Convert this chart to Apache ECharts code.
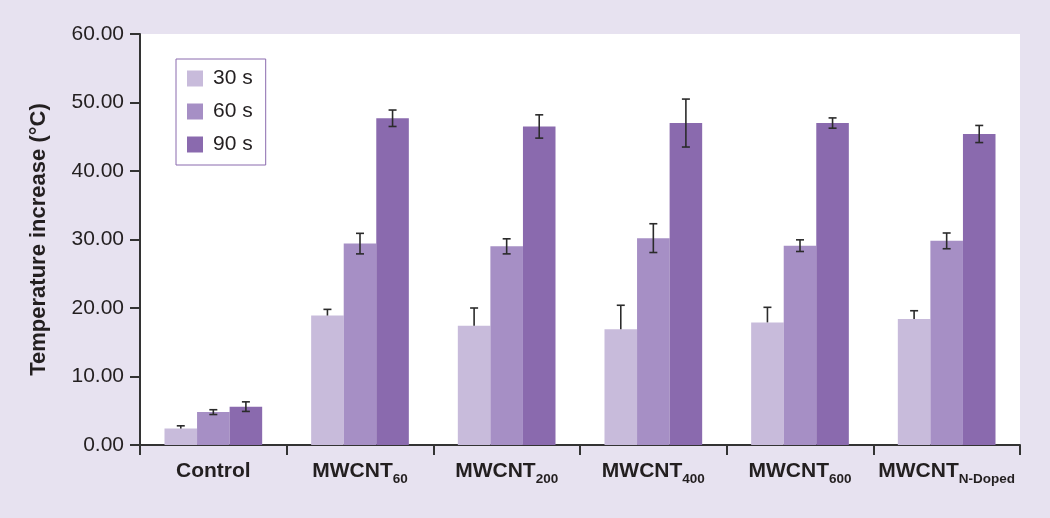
<!DOCTYPE html>
<html>
<head>
<meta charset="utf-8">
<script src="https://cdn.jsdelivr.net/npm/echarts@6/dist/echarts.min.js"></script>
<style>
html,body{margin:0;padding:0;background:#E7E2F0;}
#chart{width:1050px;height:518px;}
</style>
</head>
<body>
<div id="chart"></div>
<script>
// ---- data ----
var catMain = ['Control', 'MWCNT', 'MWCNT', 'MWCNT', 'MWCNT', 'MWCNT'];
var catSub = ['', '60', '200', '400', '600', 'N-Doped'];
var seriesNames = ['30 s', '60 s', '90 s'];
var v30 = [2.4, 18.9, 17.4, 16.9, 17.9, 18.4];
var v60 = [4.8, 29.4, 29.0, 30.2, 29.1, 29.8];
var v90 = [5.6, 47.7, 46.5, 47.0, 47.0, 45.4];
var e30 = [0.4, 0.9, 2.6, 3.5, 2.2, 1.2];
var e60 = [0.35, 1.5, 1.1, 2.1, 0.85, 1.15];
var e90 = [0.7, 1.2, 1.7, 3.5, 0.75, 1.25];
var yTicks = [0, 10, 20, 30, 40, 50, 60];

var categories = catMain.map(function (m, i) { return m + catSub[i]; });
var colors = ['#C8BBDB', '#A68FC5', '#8A6AAE'];
var FONT = '"Liberation Sans", Arial, Helvetica, sans-serif';
var BAR_FRAC = 0.222;

var values = [v30, v60, v90];
var errs = [e30, e60, e90];
var errData = [];
for (var k = 0; k < 3; k++) {
  for (var i = 0; i < categories.length; i++) {
    // [category index, value, error, series index, both sides]
    errData.push([i, values[k][i], errs[k][i], k, k === 0 ? 0 : 1]);
  }
}

var chart = echarts.init(document.getElementById('chart'));
var option = {
  backgroundColor: '#E7E2F0',
  animation: false,
  textStyle: { fontFamily: FONT },
  grid: { left: 140, right: 30, top: 34, bottom: 73, show: true, backgroundColor: '#ffffff', borderWidth: 0 },
  legend: {
    orient: 'vertical', left: 176, top: 59,
    padding: [9, 13, 10, 11],
    itemWidth: 16, itemHeight: 16, itemGap: 12,
    backgroundColor: '#ffffff', borderColor: '#8A6AAE', borderWidth: 1,
    icon: 'rect',
    textStyle: { fontSize: 21, color: '#231F20', fontFamily: FONT, padding: [0, 0, 0, 5] },
    data: seriesNames
  },
  xAxis: {
    type: 'category',
    data: categories,
    axisLine: { lineStyle: { color: '#333333', width: 2 } },
    axisTick: { show: true, length: 10, lineStyle: { color: '#333333', width: 2 } },
    axisLabel: {
      margin: 11,
      interval: 0,
      formatter: function (val, idx) {
        var s = '{b|' + catMain[idx] + '}';
        if (catSub[idx]) s += '{s|' + catSub[idx] + '}';
        return s;
      },
      rich: {
        b: { fontSize: 21, fontWeight: 'bold', color: '#231F20', lineHeight: 30, fontFamily: FONT },
        s: { fontSize: 13.5, fontWeight: 'bold', color: '#231F20', lineHeight: 10, verticalAlign: 'bottom', fontFamily: FONT }
      }
    }
  },
  yAxis: {
    type: 'value',
    min: yTicks[0], max: yTicks[yTicks.length - 1], interval: 10,
    name: 'Temperature increase (°C)',
    nameLocation: 'middle',
    nameGap: 90,
    nameTextStyle: { fontSize: 22, fontWeight: 'bold', color: '#231F20', fontFamily: FONT },
    axisLine: { show: true, lineStyle: { color: '#333333', width: 2 } },
    axisTick: { show: true, length: 10, lineStyle: { color: '#333333', width: 2 } },
    splitLine: { show: false },
    axisLabel: {
      margin: 16,
      fontSize: 21,
      color: '#231F20',
      fontFamily: FONT,
      formatter: function (v) { return v.toFixed(2); }
    }
  },
  series: [
    { name: seriesNames[0], type: 'bar', data: v30, barWidth: (BAR_FRAC * 100) + '%', barGap: '0%', itemStyle: { color: colors[0] } },
    { name: seriesNames[1], type: 'bar', data: v60, barWidth: (BAR_FRAC * 100) + '%', barGap: '0%', itemStyle: { color: colors[1] } },
    { name: seriesNames[2], type: 'bar', data: v90, barWidth: (BAR_FRAC * 100) + '%', barGap: '0%', itemStyle: { color: colors[2] } },
    {
      type: 'custom',
      z: 10,
      silent: true,
      data: errData,
      encode: { x: 0, y: [1] },
      renderItem: function (params, api) {
        var cat = api.value(0), v = api.value(1), e = api.value(2), k = api.value(3), both = api.value(4);
        var band = api.size([1, 0])[0];
        var bw = band * BAR_FRAC;
        var x = api.coord([cat, 0])[0] + (k - 1) * bw;
        var yTop = api.coord([cat, v + e])[1];
        var yBot = api.coord([cat, both ? v - e : v])[1];
        var cap = 4;
        var style = { stroke: '#2B2B2B', lineWidth: 1.6 };
        var children = [
          { type: 'line', shape: { x1: x, y1: yTop, x2: x, y2: yBot }, style: style },
          { type: 'line', shape: { x1: x - cap, y1: yTop, x2: x + cap, y2: yTop }, style: style }
        ];
        if (both) {
          children.push({ type: 'line', shape: { x1: x - cap, y1: yBot, x2: x + cap, y2: yBot }, style: style });
        }
        return { type: 'group', children: children };
      }
    }
  ]
};
chart.setOption(option);
</script>
</body>
</html>
